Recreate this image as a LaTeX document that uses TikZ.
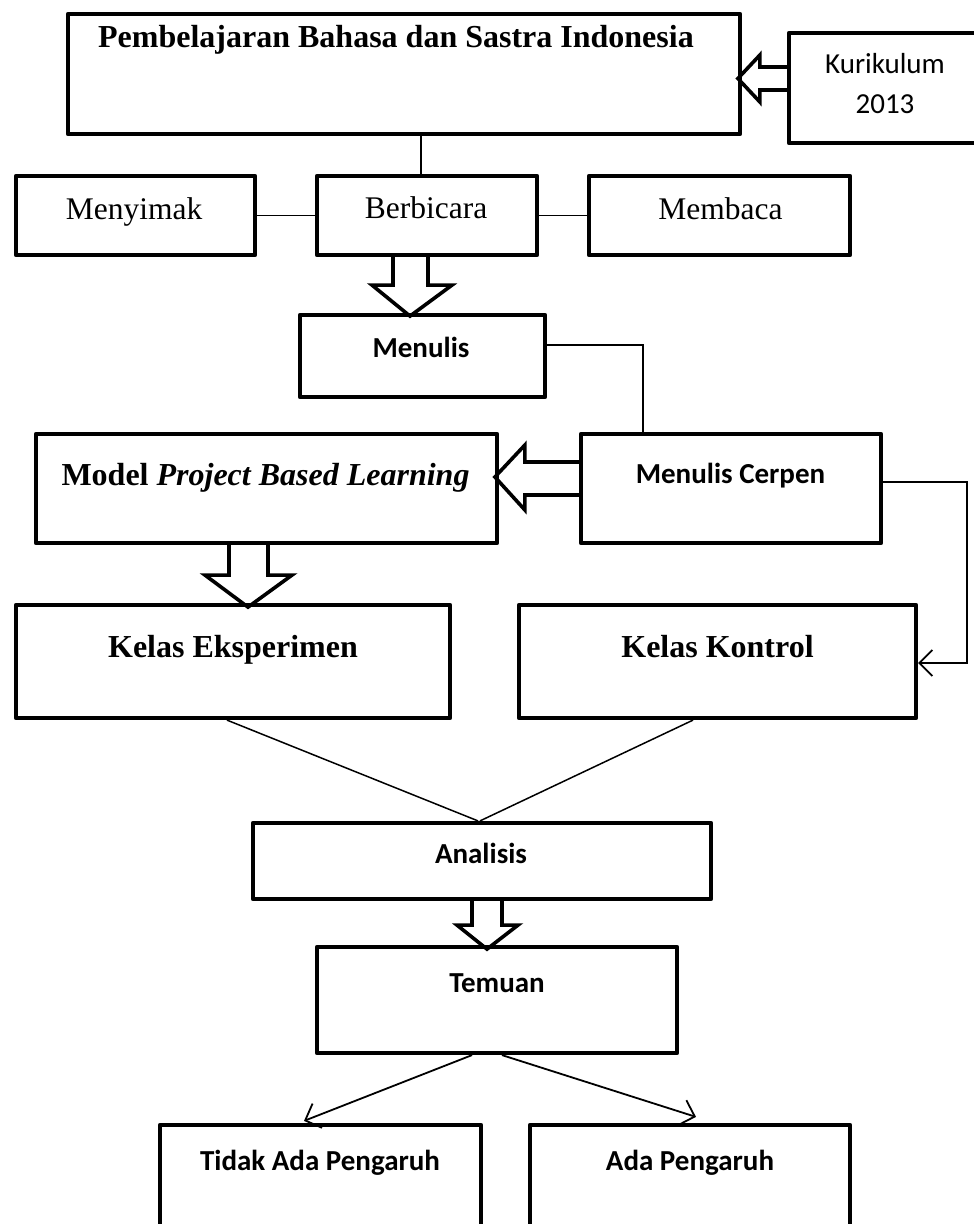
\documentclass[tikz,border=0pt]{standalone}
\usepackage{fontspec}
\setmainfont{Liberation Serif}
\newfontfamily\calib{Carlito}
\usetikzlibrary{arrows.meta,calc}
\begin{document}
\begin{tikzpicture}[x=1pt,y=-1pt,
  box/.style={draw, line width=4.2pt, line join=round, inner sep=0pt},
  conn/.style={line width=1.8pt},
  diag/.style={line width=1.5pt},
  hollow/.style={draw, line width=3.6pt, line join=miter, miter limit=10},
  serifr/.style={font=\fontsize{31.5}{36}\selectfont, anchor=base, inner sep=0pt},
  serifb/.style={font=\fontsize{32}{36}\selectfont\bfseries, anchor=base, inner sep=0pt},
  sansb/.style={font=\calib\fontsize{29}{34}\selectfont\bfseries, anchor=base, inner sep=0pt},
  sansr/.style={font=\calib\fontsize{29}{34}\selectfont, anchor=base, inner sep=0pt},
  tip/.style={-{Straight Barb[length=13pt,width=26pt,line width=1.8pt]}}
]
\useasboundingbox (0,0) rectangle (974,1224);
\clip (0,0) rectangle (974,1224);

% boxes
\node[box, minimum width=672pt, minimum height=120pt] (top) at (404,74) {};
\node[box, minimum width=201pt, minimum height=110pt] (kur) at (889.5,88) {};
\node[box, minimum width=239pt, minimum height=79pt] (menyimak) at (135.5,215.5) {};
\node[box, minimum width=220pt, minimum height=79pt] (berbicara) at (427,215.5) {};
\node[box, minimum width=261pt, minimum height=79pt] (membaca) at (719.5,215.5) {};
\node[box, minimum width=245pt, minimum height=82pt] (menulis) at (422.5,356) {};
\node[box, minimum width=461pt, minimum height=109pt] (model) at (266.5,488.5) {};
\node[box, minimum width=300pt, minimum height=109pt] (cerpen) at (731,488.5) {};
\node[box, minimum width=434pt, minimum height=113pt] (eksp) at (233,661.5) {};
\node[box, minimum width=397pt, minimum height=113pt] (kontrol) at (717.5,661.5) {};
\node[box, minimum width=458pt, minimum height=76pt] (analisis) at (482,861) {};
\node[box, minimum width=360pt, minimum height=106pt] (temuan) at (497,1000) {};
\node[box, minimum width=321pt, minimum height=135pt] (tidak) at (320.5,1192.5) {};
\node[box, minimum width=320pt, minimum height=135pt] (ada) at (690,1192.5) {};

% texts
\node[serifb] (toptxt) at (396,47) {Pembelajaran Bahasa dan Sastra Indonesia};
\node[sansr] (kurtxt1) at (885,73) {Kurikulum};
\node[sansr] (kurtxt2) at (885,113) {2013};
\node[serifr] (menyimaktxt) at (134,219) {Menyimak};
\node[serifr] (berbicaratxt) at (426,218) {Berbicara};
\node[serifr] (membacatxt) at (720.5,219) {Membaca};
\node[sansb] (menulistxt) at (421,357) {Menulis};
\node[serifb] (modeltxt) at (265.5,485) {Model \textit{Project Based Learning}};
\node[sansb] (cerpentxt) at (730.5,483) {Menulis Cerpen};
\node[serifb] (eksptxt) at (233,657) {Kelas Eksperimen};
\node[serifb] (kontroltxt) at (717.5,657) {Kelas Kontrol};
\node[sansb] (analisistxt) at (481,863) {Analisis};
\node[sansb] (temuantxt) at (497,992) {Temuan};
\node[sansb] (tidaktxt) at (320,1170) {Tidak Ada Pengaruh};
\node[sansb] (adatxt) at (690,1170) {Ada Pengaruh};

% hollow block arrows
\draw[hollow, shift={(kur.west)}] (0,-21) -- (-27,-21) -- (-27,-33) -- (-49,-9.5) -- (-27,14) -- (-27,2) -- (0,2);
\draw[hollow, shift={(berbicara.south)}] (-34,0) -- (-34,28) -- (-55,28) -- (-17,59) -- (25,28) -- (1,28) -- (1,0);
\draw[hollow, shift={(cerpen.west)}] (0,-26.5) -- (-54,-26.5) -- (-54,-43.5) -- (-84,-11.5) -- (-54,21.5) -- (-54,6.5) -- (0,6.5);
\draw[hollow, shift={(model.south)}] (-37.5,0) -- (-37.5,30) -- (-61.5,30) -- (-18.5,62) -- (25.5,30) -- (1.5,30) -- (1.5,0);
\draw[hollow, shift={(analisis.south)}] (-10,0) -- (-10,24) -- (-25,24) -- (5,48) -- (36,24) -- (20,24) -- (20,0);

% connectors
\coordinate (lx) at (421,0);
\draw[conn] (top.south -| lx) -- (berbicara.north -| lx);
\draw[conn] (menyimak.east) -- (berbicara.west);
\draw[conn] (berbicara.east) -- (membaca.west);
\coordinate (m1) at (643,345);
\draw[conn] (menulis.east |- m1) -| (cerpen.north -| m1);
\coordinate (k1) at (967,482);
\coordinate (k2) at (967,663);
\draw[conn, tip] (cerpen.east |- k1) -- (k1) -- (k2) -- (kontrol.east |- k2);
\draw[diag] ($(eksp.south)+(-6,0)$) -- ($(analisis.north)+(-4,0)$);
\draw[diag] ($(kontrol.south)+(-24.5,0)$) -- ($(analisis.north)+(-2,0)$);
\draw[conn, tip] ($(temuan.south)+(-25,0)$) -- ($(tidak.north)+(-16.5,-2)$);
\draw[conn, tip] ($(temuan.south)+(5,0)$) -- ($(ada.north)+(6,-6)$);
\end{tikzpicture}
\end{document}
